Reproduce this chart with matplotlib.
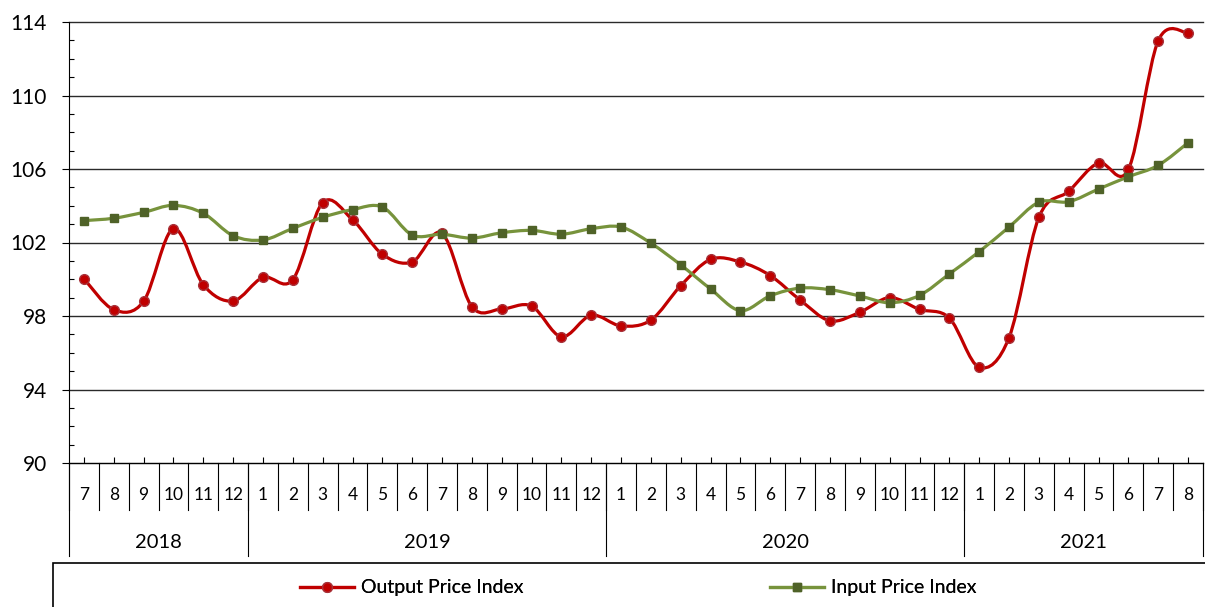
import numpy as np
import matplotlib.pyplot as plt
from matplotlib.path import Path
from matplotlib.patches import PathPatch, Rectangle
from matplotlib.lines import Line2D

plt.rcParams['font.family'] = ['Lato', 'DejaVu Sans']

# === Data ===
month_labels = ['7', '8', '9', '10', '11', '12',
                '1', '2', '3', '4', '5', '6', '7', '8', '9', '10', '11', '12',
                '1', '2', '3', '4', '5', '6', '7', '8', '9', '10', '11', '12',
                '1', '2', '3', '4', '5', '6', '7', '8']
years = ['2018', '2019', '2020', '2021']
year_counts = [6, 12, 12, 8]

output_index = [100.03, 98.34, 98.80, 102.75, 99.70, 98.82,
                100.10, 99.98, 104.17, 103.24, 101.36, 100.94,
                102.50, 98.51, 98.38, 98.54, 96.87, 98.04,
                97.46, 97.78, 99.65, 101.08, 100.94, 100.20,
                98.87, 97.74, 98.20, 99.00, 98.36, 97.89,
                95.21, 96.82, 103.37, 104.79, 106.33, 105.98, 112.98, 113.40]
input_index = [103.19, 103.32, 103.64, 104.02, 103.59, 102.37,
               102.14, 102.77, 103.37, 103.79, 103.93, 102.41,
               102.45, 102.24, 102.53, 102.66, 102.45, 102.75,
               102.84, 101.96, 100.78, 99.47, 98.29, 99.10,
               99.52, 99.43, 99.09, 98.72, 99.12, 100.29,
               101.50, 102.84, 104.19, 104.22, 104.91, 105.58, 106.20, 107.43]

RED = '#C00000'
GREEN = '#77933C'
GREEN_MK = '#4F6228'


def smooth_path(xs, ys):
    # Excel-like smoothed line: cubic bezier with catmull-rom control points
    pts = np.column_stack([xs, ys]).astype(float)
    padded = np.vstack([pts[0], pts, pts[-1]])
    verts = [pts[0]]
    codes = [Path.MOVETO]
    for i in range(len(pts) - 1):
        p0, p1, p2, p3 = padded[i], padded[i + 1], padded[i + 2], padded[i + 3]
        verts += [p1 + (p2 - p0) / 6, p2 - (p3 - p1) / 6, p2]
        codes += [Path.CURVE4] * 3
    return Path(verts, codes)


x = np.arange(len(month_labels))

fig = plt.figure(figsize=(12.05, 6.07), dpi=100)
ax = fig.add_axes([69 / 1205, 1 - 463 / 607, (1203 - 69) / 1205, (463 - 22) / 607])

# --- series ---
ax.add_patch(PathPatch(smooth_path(x, output_index), fill=False,
                       edgecolor=RED, lw=2.3, zorder=3, capstyle='round'))
ax.plot(x, output_index, ls='none', marker='o', ms=7, mfc=RED,
        mec='#A8323A', mew=1, zorder=4)
ax.add_patch(PathPatch(smooth_path(x, input_index), fill=False,
                       edgecolor=GREEN, lw=2.3, zorder=5, capstyle='round'))
ax.plot(x, input_index, ls='none', marker='s', ms=5.5, mfc=GREEN_MK,
        mec=GREEN_MK, zorder=6)

# --- axes ---
ax.set_xlim(-0.5, len(month_labels) - 0.5)
ax.set_ylim(90, 114)
ax.set_yticks(np.arange(90, 115, 4))
ax.set_yticks(np.arange(90, 115, 1), minor=True)
ax.set_xticks(x)
ax.set_xticklabels([])
ax.tick_params(axis='y', which='major', direction='out', length=5, width=0.8,
               labelsize=15, pad=11)
ax.tick_params(axis='y', which='minor', direction='in', length=3.5, width=0.8)
ax.tick_params(axis='x', which='major', direction='in', length=4, width=0.8)
ax.yaxis.grid(True, color='#2a2a2a', lw=1)
plt.setp(ax.get_ygridlines(), clip_on=False)
for s in ['top', 'right']:
    ax.spines[s].set_visible(False)
for s in ['left', 'bottom']:
    ax.spines[s].set_color('black')
    ax.spines[s].set_linewidth(0.8)

# --- two-level category axis ---
tr = ax.get_xaxis_transform()
month_y, month_bottom = -0.0726, -0.1066
year_y, year_bottom = -0.1807, -0.2109
for i, m in enumerate(month_labels):
    ax.text(i, month_y, m, transform=tr, ha='center', va='center', fontsize=12.5)
for b in np.arange(len(month_labels) + 1) - 0.5:
    ax.plot([b, b], [0, month_bottom], transform=tr, color='black', lw=0.8,
            clip_on=False)
edges = np.concatenate([[0], np.cumsum(year_counts)]) - 0.5
for b in edges:
    ax.plot([b, b], [0, year_bottom], transform=tr, color='black', lw=0.8,
            clip_on=False)
for yr, lo, hi in zip(years, edges[:-1], edges[1:]):
    ax.text((lo + hi) / 2, year_y, yr, transform=tr, ha='center', va='center',
            fontsize=14.5)

# --- legend box ---
fig.patches.append(Rectangle((53 / 1205, -0.05), 1.0, 0.05 + 1 - 563 / 607,
                             transform=fig.transFigure, fill=False,
                             edgecolor='black', lw=1.2))
h_out = Line2D([], [], color=RED, lw=2.3, marker='o', ms=7, mfc=RED, mec='#A8323A')
h_in = Line2D([], [], color=GREEN, lw=2.3, marker='s', ms=5.5, mfc=GREEN_MK, mec=GREEN_MK)
leg_y = 1 - 588 / 607
for h, lab, lx in [(h_out, 'Output Price Index', 300), (h_in, 'Input Price Index', 770)]:
    leg = fig.legend([h], [lab], loc='center left', bbox_to_anchor=(lx / 1205, leg_y),
                     frameon=False, fontsize=14, borderpad=0, borderaxespad=0,
                     handlelength=2.8, handletextpad=0.35)
    fig.add_artist(leg)

fig.savefig('out.png', dpi=100)
